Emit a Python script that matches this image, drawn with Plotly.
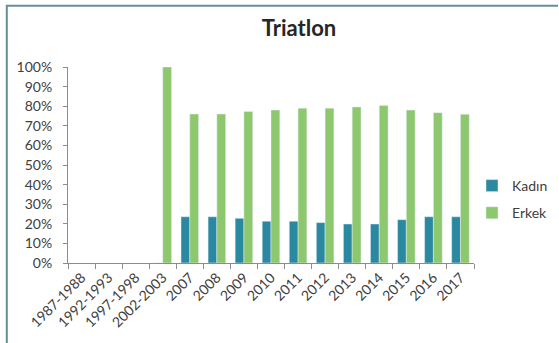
import plotly.graph_objects as go

# Category labels (survey periods / years)
periods = ["1987-1988", "1992-1993", "1997-1998", "2002-2003", "2007", "2008",
           "2009", "2010", "2011", "2012", "2013", "2014", "2015", "2016", "2017"]

# Share of athletes by gender (%)
kadin = [None, None, None, 0, 23.6, 23.6, 22.8, 21.3, 21.3, 20.6, 19.9, 19.9, 22.1, 23.6, 23.6]
erkek = [None, None, None, 100, 76.0, 76.0, 77.3, 78.0, 79.0, 79.0, 79.6, 80.4, 78.0, 76.7, 75.9]

W, H = 559, 343
L, R, T, B = 68, 85, 67, 80
pw, ph = W - L - R, H - T - B

FONT = "Lato"
TXT = "#404040"
AXIS = "#8c8c8c"
FRAME = "#668e99"

fig = go.Figure()
fig.add_trace(go.Bar(x=periods, y=kadin, name="Kadın", marker_color="#2b88a1",
                     legendgroup="k"))
fig.add_trace(go.Bar(x=periods, y=erkek, name="Erkek", marker_color="#8dc76e",
                     legendgroup="e"))


def px_x(p):
    return (p - L) / pw


def px_y(p):
    return (H - B - p) / ph


# top and left frame lines of the chart box
fig.add_shape(type="line", xref="paper", yref="paper",
              x0=px_x(6), x1=px_x(558), y0=px_y(5.8), y1=px_y(5.8),
              line=dict(color=FRAME, width=2))
fig.add_shape(type="line", xref="paper", yref="paper",
              x0=px_x(6.8), x1=px_x(6.8), y0=px_y(5), y1=px_y(343),
              line=dict(color=FRAME, width=2))

fig.update_layout(
    width=W, height=H,
    margin=dict(l=L, r=R, t=T, b=B, autoexpand=False),
    paper_bgcolor="white", plot_bgcolor="white",
    font=dict(family=FONT, color=TXT, size=14),
    title=dict(text="<b>Triatlon</b>", font=dict(size=22, color="#262626"),
               xref="container", yref="container",
               x=299 / W, y=1 - 28 / H, xanchor="center", yanchor="middle"),
    barmode="group", bargap=0.35, bargroupgap=0,
    showlegend=True,
    legend=dict(x=px_x(472), y=px_y(170), xanchor="left", yanchor="top",
                font=dict(size=14, color=TXT), tracegroupgap=6,
                itemwidth=30, bgcolor="rgba(0,0,0,0)", borderwidth=0),
    xaxis=dict(type="category", showline=True, linecolor=AXIS, linewidth=1,
               ticks="outside", tickson="boundaries", ticklen=5, tickcolor=AXIS,
               tickangle=-45, showgrid=False, automargin=False,
               tickfont=dict(size=14, color=TXT)),
    yaxis=dict(range=[0, 100], dtick=10, ticksuffix="%", showline=True,
               linecolor=AXIS, linewidth=1, ticks="outside", ticklen=4,
               tickcolor=AXIS, showgrid=False, zeroline=False, automargin=False,
               ticklabelstandoff=8, tickfont=dict(size=14, color=TXT)),
)

fig.write_html("out.html")
